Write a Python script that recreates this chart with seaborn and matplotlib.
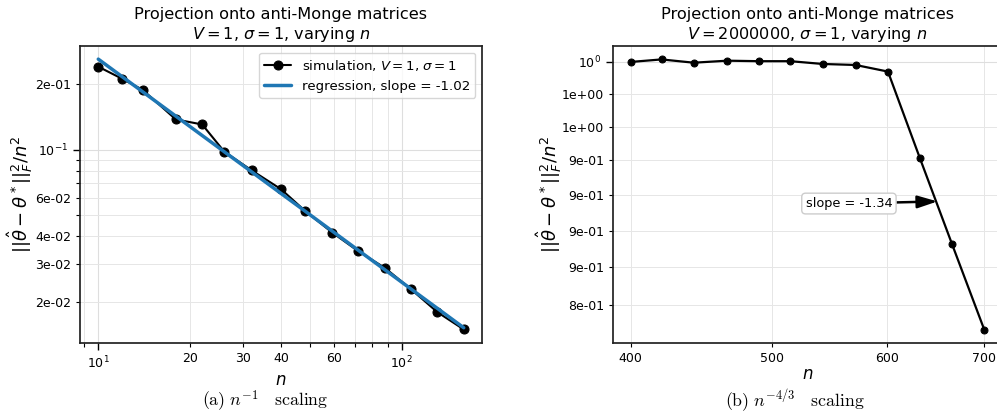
import numpy as np
import pandas as pd
import matplotlib
matplotlib.use("Agg")
import matplotlib.pyplot as plt
import seaborn as sns
from matplotlib.ticker import LogFormatter

# ---------------- data ----------------
# panel (a): V = 1, sigma = 1
n_left = [10, 12, 14, 18, 22, 26, 32, 40, 48, 59, 72, 88, 107, 131, 160]
err_left = [0.240, 0.211, 0.188, 0.1376, 0.1304, 0.098, 0.0804, 0.0659,
            0.0524, 0.0417, 0.0342, 0.0287, 0.0230, 0.0180, 0.0150]

# panel (b): V = 2000000, sigma = 1
n_right = [400, 420, 442, 466, 490, 515, 542, 571, 601, 632, 665, 700]
err_right = [1.000, 1.002, 0.9994, 1.001, 1.0006, 1.0006, 0.9984, 0.9976,
             0.9924, 0.927, 0.866, 0.809]

title_left = "Projection onto anti-Monge matrices\n$V = 1$, $\\sigma = 1$, varying $n$"
title_right = "Projection onto anti-Monge matrices\n$V = 2000000$, $\\sigma = 1$, varying $n$"
ylabel_txt = r"$||\hat{\theta} - \theta^*||_F^2/n^2$"
xlabel_txt = "$n$"
sim_label = "simulation, $V = 1$, $\\sigma = 1$"
slope_right_text = "slope = -1.34"
caption_left = r"$\mathrm{(a)}\ n^{-1}\quad\mathrm{scaling}$"
caption_right = r"$\mathrm{(b)}\ n^{-4/3}\quad\mathrm{scaling}$"

# ---------------- style ----------------
sns.set_theme(style="ticks")
plt.rcParams.update({
    "font.family": ["DejaVu Sans"],
    "axes.unicode_minus": False,
    "text.color": "black",
    "axes.labelcolor": "black",
    "xtick.color": "black",
    "ytick.color": "black",
    "axes.edgecolor": "#222222",
    "axes.linewidth": 1.25,
    "xtick.major.size": 5, "ytick.major.size": 5,
    "xtick.minor.size": 3, "ytick.minor.size": 3,
    "xtick.major.width": 1.0, "ytick.major.width": 1.0,
    "xtick.minor.width": 0.8, "ytick.minor.width": 0.8,
    "xtick.labelsize": 9, "ytick.labelsize": 9,
    "legend.fontsize": 9.6,
})

fig = plt.figure(figsize=(9.97, 4.18), dpi=100)
axL = fig.add_axes([80 / 997, 1 - 343 / 418, 402 / 997, 297 / 418])
axR = fig.add_axes([613 / 997, 1 - 343 / 418, 389 / 997, 297 / 418])

df_left = pd.DataFrame({"n": n_left, "err": err_left})
df_right = pd.DataFrame({"n": n_right, "err": err_right})

# regression in log-log space
fit = np.polyfit(np.log10(df_left["n"]), np.log10(df_left["err"]), 1)
df_left["reg"] = 10 ** np.polyval(fit, np.log10(df_left["n"]))

# ---------------- left panel ----------------
sns.lineplot(data=df_left, x="n", y="err", ax=axL, color="black", marker="o",
             markersize=6.5, markeredgecolor="black", linewidth=1.5,
             label=sim_label, sort=False, zorder=3)
sns.lineplot(data=df_left, x="n", y="reg", ax=axL, color="#1f77b4",
             linewidth=2.5, label=f"regression, slope = {fit[0]:.2f}",
             sort=False, zorder=4)
axL.set_xscale("log")
axL.set_yscale("log")
axL.set_ylim(0.0130, 0.2985)
axL.legend(loc="upper right", fontsize=9.6)

# ---------------- right panel ----------------
sns.lineplot(data=df_right, x="n", y="err", ax=axR, color="black", marker="o",
             markersize=5, markeredgecolor="black", linewidth=1.6,
             sort=False, zorder=3)
axR.set_xscale("log")
axR.set_yscale("log")
axR.set_ylim(0.8006, 1.0127)
axR.annotate(slope_right_text, xy=(650, 0.8955), xytext=(565, 0.894),
             ha="center", va="center", fontsize=9.3,
             bbox=dict(boxstyle="round,pad=0.3", fc="white", ec="#cccccc"),
             arrowprops=dict(arrowstyle="-|>,head_length=0.8,head_width=0.25",
                             color="black", lw=1.8, mutation_scale=15,
                             shrinkA=0, shrinkB=0),
             zorder=5)

for ax, title, ypad in [(axL, title_left, 0.4), (axR, title_right, -1.8)]:
    ax.xaxis.set_minor_formatter(LogFormatter(labelOnlyBase=False, minor_thresholds=(2, 0.4)))
    ax.yaxis.set_minor_formatter(LogFormatter(labelOnlyBase=False, minor_thresholds=(2, 0.4)))
    ax.grid(True, which="major", color="#dedede", linewidth=0.8)
    ax.grid(True, which="minor", color="#e6e6e6", linewidth=0.7)
    ax.set_axisbelow(True)
    ax.set_title(title, fontsize=11.6, pad=5)
    ax.set_xlabel(xlabel_txt, fontsize=12, labelpad=0)
    ax.set_ylabel(ylabel_txt, fontsize=13, labelpad=ypad)
    ax.tick_params(which="both", direction="out")

fig.text(265 / 997, 1 - 401 / 418, caption_left, ha="center", va="center",
         fontsize=12.8, math_fontfamily="cm")
fig.text(795 / 997, 1 - 401 / 418, caption_right, ha="center", va="center",
         fontsize=12.8, math_fontfamily="cm")

fig.savefig("out.png", dpi=100)
